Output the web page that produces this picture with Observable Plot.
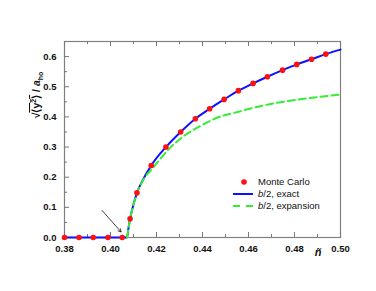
<!DOCTYPE html>
<html>
<head>
<meta charset="utf-8">
<script src="https://cdn.jsdelivr.net/npm/d3@7"></script>
<script src="https://cdn.jsdelivr.net/npm/@observablehq/plot@0.6"></script>
<style>
  html, body { margin: 0; padding: 0; background: #fff; }
  g[aria-label$="tick label"] { font-weight: bold; }
</style>
</head>
<body>
<div id="chart"></div>
<script>
// Monte Carlo points
const mcX = [0.38, 0.3863, 0.3925, 0.3989, 0.4051, 0.4085, 0.4115, 0.4177, 0.4241, 0.4305, 0.4369, 0.4431, 0.4494, 0.4556, 0.462, 0.4682, 0.4748, 0.481, 0.4874, 0.4936];
const mcY = [0, 0, 0, 0, 0, 0.062, 0.148, 0.239, 0.300, 0.350, 0.394, 0.427, 0.458, 0.487, 0.511, 0.533, 0.555, 0.574, 0.591, 0.608];
// b/2, exact
const exactX = [0.38, 0.4072, 0.4078, 0.4085, 0.4095, 0.4115, 0.414, 0.4177, 0.4241, 0.4305, 0.4369, 0.4431, 0.4494, 0.4556, 0.462, 0.4682, 0.4748, 0.481, 0.4874, 0.4936, 0.50];
const exactY = [0, 0, 0.03, 0.062, 0.095, 0.148, 0.190, 0.239, 0.300, 0.350, 0.394, 0.427, 0.458, 0.487, 0.511, 0.533, 0.555, 0.574, 0.591, 0.608, 0.623];
// b/2, expansion
const expX = [0.4072, 0.4078, 0.4085, 0.4095, 0.4115, 0.414, 0.4187, 0.426, 0.4318, 0.4391, 0.4463, 0.4557, 0.4666, 0.4812, 0.50];
const expY = [0, 0.03, 0.062, 0.095, 0.147, 0.188, 0.233, 0.298, 0.336, 0.370, 0.397, 0.417, 0.438, 0.457, 0.474];
// arrow
const arrowFrom = [0.3963, 0.090];
const arrowTo = [0.4046, 0.0185];
// ticks
const xMajor = [0.38, 0.40, 0.42, 0.44, 0.46, 0.48, 0.50];
const xMinor = [0.39, 0.41, 0.43, 0.45, 0.47, 0.49];
const yMajor = [0.0, 0.1, 0.2, 0.3, 0.4, 0.5, 0.6];
const yMinor = [0.05, 0.15, 0.25, 0.35, 0.45, 0.55];

const W = 376, H = 291, mL = 64, mR = 36, mT = 41, mB = 54;
const iW = W - mL - mR, iH = H - mT - mB;

const mc = mcX.map((x, i) => ({x, y: mcY[i]}));
const exact = exactX.map((x, i) => ({x, y: exactY[i]}));
const expn = expX.map((x, i) => ({x, y: expY[i]}));

const chart = Plot.plot({
  width: W, height: H,
  marginLeft: mL, marginRight: mR, marginTop: mT, marginBottom: mB,
  style: {fontFamily: "'Liberation Sans', Arial, sans-serif", fontSize: "9.5px", background: "#fff"},
  x: {domain: [0.38, 0.50]},
  y: {domain: [0, 0.65]},
  marks: [
    Plot.frame({stroke: "#808080", strokeWidth: 1.2}),
    // inward ticks
    Plot.tickX(xMajor, {x: d => d, insetTop: iH - 5, stroke: "#777"}),
    Plot.tickX(xMinor, {x: d => d, insetTop: iH - 3, stroke: "#777"}),
    Plot.tickX(xMajor, {x: d => d, insetBottom: iH - 5, stroke: "#777"}),
    Plot.tickX(xMinor, {x: d => d, insetBottom: iH - 3, stroke: "#777"}),
    Plot.tickY(yMajor, {y: d => d, insetRight: iW - 5, stroke: "#777"}),
    Plot.tickY(yMinor, {y: d => d, insetRight: iW - 3, stroke: "#777"}),
    Plot.axisX({ticks: xMajor, tickSize: 0, tickPadding: 8, tickFormat: d3.format(".2f"), label: null, fill: "#111"}),
    Plot.axisY({ticks: yMajor, tickSize: 0, tickPadding: 8, tickFormat: d3.format(".1f"), label: null, fill: "#111"}),
    Plot.line(exact, {x: "x", y: "y", stroke: "#1010ff", strokeWidth: 2, curve: "monotone-x"}),
    Plot.line(expn, {x: "x", y: "y", stroke: "#33ee33", strokeWidth: 2, strokeDasharray: "7,4", curve: "monotone-x"}),
    Plot.dot(mc, {x: "x", y: "y", r: 2.8, fill: "#ff1010", stroke: "none"}),
    Plot.arrow([{x1: arrowFrom[0], y1: arrowFrom[1], x2: arrowTo[0], y2: arrowTo[1]}], {x1: "x1", y1: "y1", x2: "x2", y2: "y2", stroke: "#111", strokeWidth: 0.8, headLength: 6})
  ]
});

const svg = d3.select(chart);
// y-axis label
const yl = svg.append("text")
  .attr("transform", "translate(40,95) rotate(-90)")
  .attr("text-anchor", "middle")
  .attr("font-weight", "bold")
  .attr("font-size", 10.5)
  .attr("fill", "#111");
yl.append("tspan").text("√");
const ov = yl.append("tspan").attr("text-decoration", "overline");
ov.append("tspan").text("⟨y");
ov.append("tspan").attr("dy", -4).attr("font-size", 7).text("2");
ov.append("tspan").attr("dy", 4).text("⟩");
yl.append("tspan").text(" / ");
yl.append("tspan").attr("font-style", "italic").text("a");
yl.append("tspan").attr("dy", 2.5).attr("font-size", 7).text("ho");

// x-axis label
svg.append("text")
  .attr("x", 318).attr("y", 256)
  .attr("text-anchor", "middle")
  .attr("font-weight", "bold").attr("font-style", "italic")
  .attr("font-size", 11).attr("fill", "#111")
  .text("ñ");

// legend
const lg = svg.append("g").attr("font-size", 9.5).attr("fill", "#111").attr("text-anchor", "start");
lg.append("circle").attr("cx", 244).attr("cy", 182).attr("r", 2.8).attr("fill", "#ff1010");
lg.append("text").attr("x", 258).attr("y", 185.4).attr("text-anchor", "start").text("Monte Carlo");
lg.append("line").attr("x1", 233).attr("x2", 253).attr("y1", 194).attr("y2", 194).attr("stroke", "#1010ff").attr("stroke-width", 2);
const t2 = lg.append("text").attr("x", 258).attr("y", 197.4).attr("text-anchor", "start");
t2.append("tspan").attr("font-style", "italic").text("b");
t2.append("tspan").text("/2, exact");
lg.append("line").attr("x1", 233).attr("x2", 253).attr("y1", 206).attr("y2", 206).attr("stroke", "#33ee33").attr("stroke-width", 2).attr("stroke-dasharray", "7,6");
const t3 = lg.append("text").attr("x", 258).attr("y", 209.4).attr("text-anchor", "start");
t3.append("tspan").attr("font-style", "italic").text("b");
t3.append("tspan").text("/2, expansion");

document.getElementById("chart").appendChild(chart);
</script>
</body>
</html>
